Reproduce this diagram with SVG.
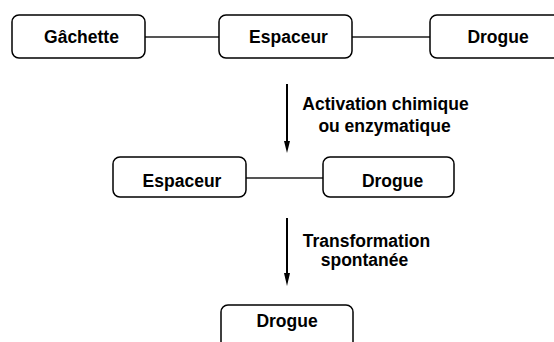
<svg xmlns="http://www.w3.org/2000/svg" width="554" height="342" viewBox="0 0 554 342">
<style>
.box{fill:#fff;stroke:#000;stroke-width:1.5}
.t{font-family:"Liberation Sans",Arial,sans-serif;font-weight:bold;font-size:17.5px;fill:#000;text-anchor:middle}
.link{stroke:#555;stroke-width:2;fill:none}
.arr{stroke:#000;stroke-width:2;fill:none}
</style>
<defs>
<marker id="ah" markerWidth="7" markerHeight="12" refX="7" refY="3.5" orient="auto" markerUnits="userSpaceOnUse" viewBox="0 0 12 7">
<path d="M0,0 L12,3.5 L0,7 z" fill="#000"/>
</marker>
</defs>
<g id="connectors">
<line class="link" x1="145" y1="37" x2="219" y2="37"/>
<line class="link" x1="352" y1="37" x2="430" y2="37"/>
<line class="link" x1="246" y1="178" x2="323" y2="178"/>
<path class="arr" d="M287,84 L287,142"/>
<path d="M284,141 L290,141 L287,153 z" fill="#000"/>
<path class="arr" d="M287,218 L287,274"/>
<path d="M284,273 L290,273 L287,286 z" fill="#000"/>
<text class="t" x="385.5" y="110">Activation chimique</text>
<text class="t" x="384.5" y="132">ou enzymatique</text>
<text class="t" x="366.5" y="247">Transformation</text>
<text class="t" x="364.5" y="266">spontanée</text>
</g>
<g id="n1"><rect class="box" x="12" y="15" width="133" height="43" rx="7"/><text class="t" x="81.5" y="43">Gâchette</text></g>
<g id="n2"><rect class="box" x="219" y="15" width="133" height="43" rx="7"/><text class="t" x="288.5" y="43">Espaceur</text></g>
<g id="n3"><rect class="box" x="430" y="15" width="135" height="43" rx="7"/><text class="t" x="498" y="43">Drogue</text></g>
<g id="n4"><rect class="box" x="113" y="157" width="133" height="40" rx="7"/><text class="t" x="182" y="187">Espaceur</text></g>
<g id="n5"><rect class="box" x="323" y="157" width="131" height="40" rx="7"/><text class="t" x="392.5" y="187">Drogue</text></g>
<g id="n6"><rect class="box" x="221" y="305" width="132" height="45" rx="7"/><text class="t" x="287" y="327">Drogue</text></g>
</svg>
